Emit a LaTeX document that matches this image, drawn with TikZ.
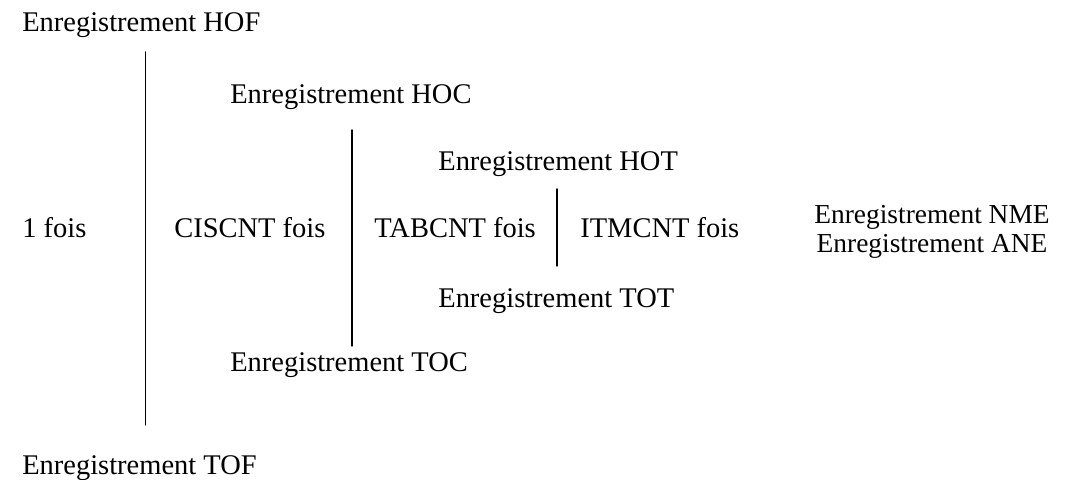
\documentclass[tikz,border=0pt]{standalone}
\usepackage{fontspec}
\setmainfont{Liberation Serif}
\usepackage{tikz}

\begin{document}
\begin{tikzpicture}[line cap=round, line join=round,
  testo/.style={inner sep=0pt, anchor=base west, font=\fontsize{16.2}{19}\selectfont},
  separatore/.style={line width=0.85pt}]

\useasboundingbox (0,0) rectangle (21.48,9.58);

% livello esterno
\node[testo] (hof) at (0.44,8.94) {Enregistrement HOF};
\node[testo] (unefois) at (0.44,4.82) {1 fois};
\node[testo] (tof) at (0.44,0.10) {Enregistrement TOF};

% livello CIS
\node[testo] (hoc) at (4.60,7.50) {Enregistrement HOC};
\node[testo] (ciscnt) at (3.48,4.82) {CISCNT fois};
\node[testo] (toc) at (4.60,2.16) {Enregistrement TOC};

% livello TAB
\node[testo] (hot) at (8.76,6.16) {Enregistrement HOT};
\node[testo] (tabcnt) at (7.48,4.82) {TABCNT fois};
\node[testo] (tot) at (8.76,3.44) {Enregistrement TOT};

% livello ITM
\node[testo] (itmcnt) at (11.60,4.82) {ITMCNT fois};
\node[testo, anchor=base, font=\fontsize{15.6}{18}\selectfont] (nme) at (18.64,5.10) {Enregistrement NME};
\node[testo, anchor=base, font=\fontsize{15.6}{18}\selectfont] (ane) at (18.64,4.54) {Enregistrement ANE};

% separatori
\coordinate (s1a) at (2.91,8.54);
\coordinate (s1b) at (2.91,1.08);
\coordinate (s2a) at (7.04,6.98);
\coordinate (s2b) at (7.04,2.66);
\coordinate (s3a) at (11.14,5.80);
\coordinate (s3b) at (11.14,4.26);

\draw[separatore] (s1a) -- (s1b);
\draw[separatore] (s2a) -- (s2b);
\draw[separatore] (s3a) -- (s3b);

\end{tikzpicture}
\end{document}
